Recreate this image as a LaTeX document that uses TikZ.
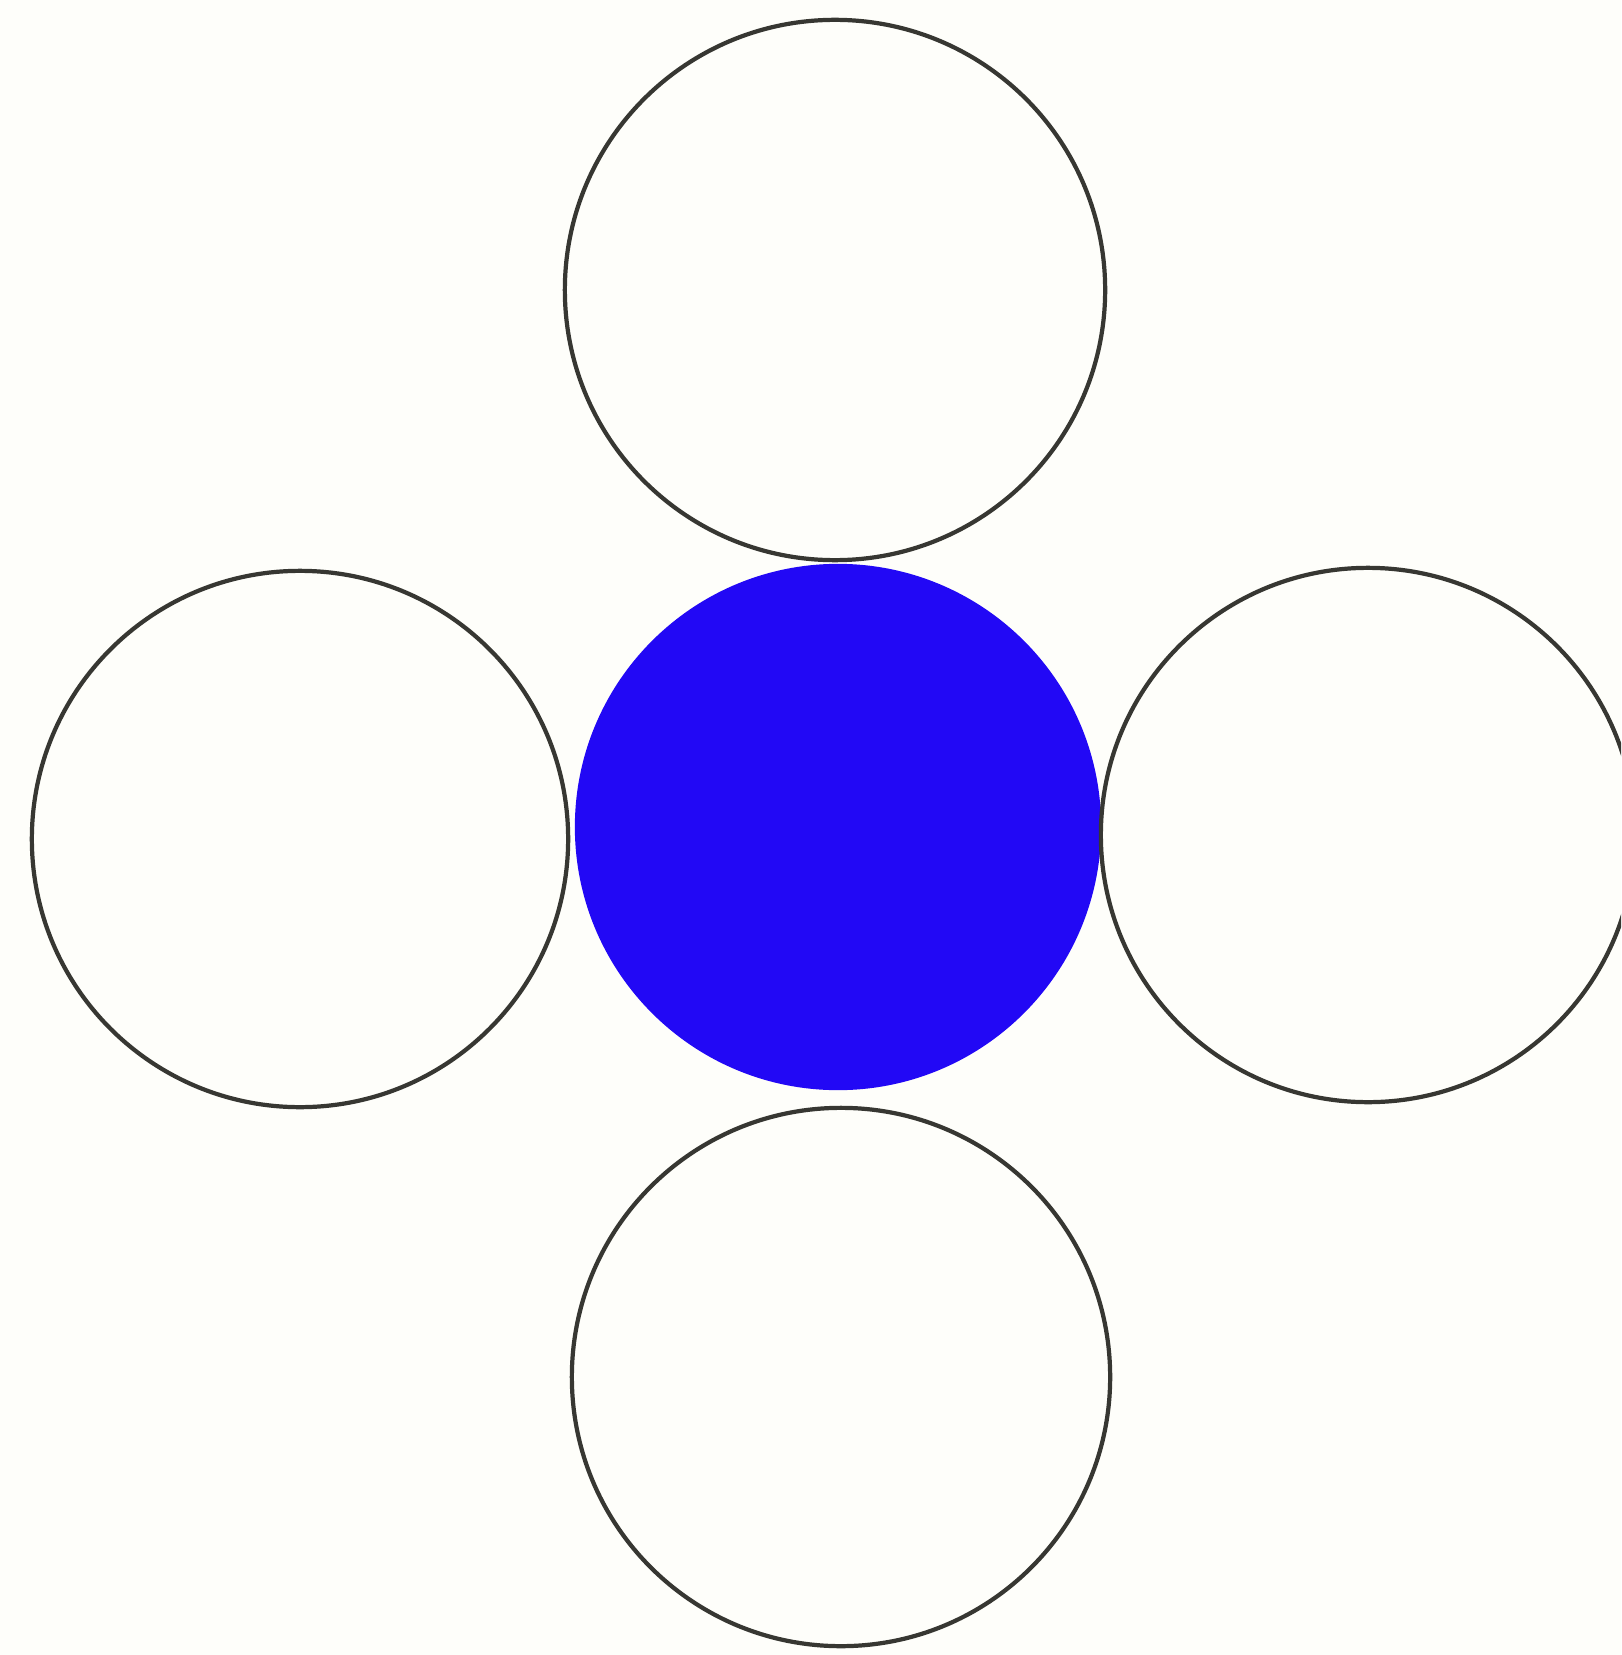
\documentclass[tikz,border=0pt]{standalone}
\definecolor{ringgray}{RGB}{55,55,50}
\definecolor{dotblue}{RGB}{34,8,245}
\definecolor{paper}{RGB}{254,254,250}
\tikzset{ring/.style={circle,draw=ringgray,line width=1.2pt,inner sep=0pt},
         core/.style={circle,fill=dotblue,inner sep=0pt}}
\begin{document}
\begin{tikzpicture}[x=0.01cm,y=-0.01cm]
\fill[paper] (0,0) rectangle (1621,1655);
\useasboundingbox (0,0) rectangle (1621,1655);
\begin{scope}
\clip (0,0) rectangle (1621,1655);
\node[ring,minimum size=5.4cm] (top) at (835,290) {};
\node[ring,minimum size=5.36cm] (left) at (300,839) {};
\node[core,minimum size=5.26cm] (center) at (838,827) {};
\node[ring,minimum size=5.34cm] (right) at (1368,835) {};
\node[ring,minimum size=5.38cm] (bottom) at (841,1377) {};
\end{scope}
\end{tikzpicture}
\end{document}
